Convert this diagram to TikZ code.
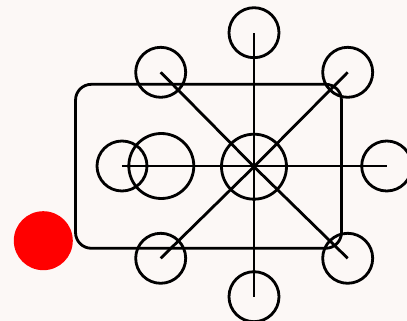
\documentclass[tikz,border=0pt]{standalone}
\usepackage{tikz}
\usetikzlibrary{positioning}
\definecolor{paper}{RGB}{252,248,246}

\begin{document}
\begin{tikzpicture}[
    x=0.02cm, y=-0.02cm,
    ring/.style={draw, circle, line width=1.6pt, inner sep=0pt, minimum size=1cm},
    bigring/.style={draw, circle, line width=1.6pt, inner sep=0pt, minimum size=1.3cm},
    frame/.style={draw, rectangle, rounded corners=9pt, line width=1.6pt,
                  minimum width=5.32cm, minimum height=3.28cm},
    spoke/.style={line width=1.6pt},
    dot/.style={circle, fill=red, inner sep=0pt, minimum size=1.18cm}
]
\fill[paper] (0,0) rectangle (407,321);
\useasboundingbox (0,0) rectangle (407,321);

\node[frame] (box) at (208.5,166.3) {};
\node[bigring] (hub) at (254,166.7) {};
\node[bigring] (lbig) at (161.3,166) {};
\node[ring] (lsmall) at (122,166) {};
\node[ring] (top) at (254,32.7) {};
\node[ring] (bottom) at (254,296.7) {};
\node[ring] (right) at (386.7,166) {};
\node[ring] (tl) at (160.7,72.3) {};
\node[ring] (tr) at (347.7,72.3) {};
\node[ring] (bl) at (160.7,258.3) {};
\node[ring] (br) at (347.7,258.3) {};
\node[dot] (red) at (43.3,240.7) {};

% spokes from the hub to every outer ring
\draw[spoke] (hub.center) -- (top.center);
\draw[spoke] (hub.center) -- (bottom.center);
\draw[spoke] (lsmall.center) -- (right.center);
\draw[spoke] (hub.center) -- (tl.center);
\draw[spoke] (hub.center) -- (tr.center);
\draw[spoke] (hub.center) -- (bl.center);
\draw[spoke] (hub.center) -- (br.center);

\end{tikzpicture}
\end{document}
